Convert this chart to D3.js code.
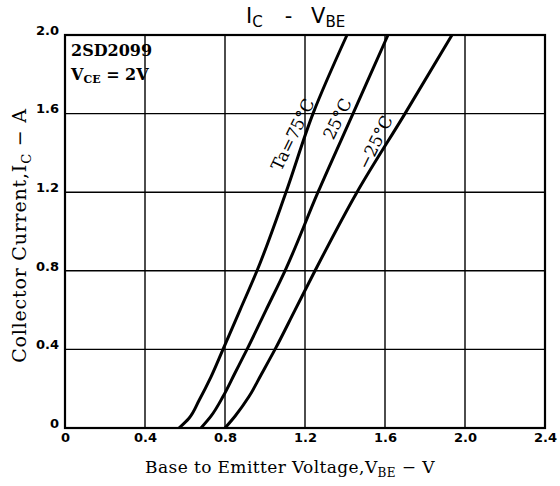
<!DOCTYPE html>
<html>
<head>
<meta charset="utf-8">
<script src="https://cdn.jsdelivr.net/npm/d3@7"></script>
<style>
  body { margin: 0; background: #fff; }
  .serif { font-family: "DejaVu Serif", serif; }
</style>
</head>
<body>
<svg id="chart" width="560" height="486"></svg>
<script>
// tick values
const xTicks = [0, 0.4, 0.8, 1.2, 1.6, 2.0, 2.4];
const xTickLabels = ['0', '0.4', '0.8', '1.2', '1.6', '2.0', '2.4'];
const yTicks = [0, 0.4, 0.8, 1.2, 1.6, 2.0];
const yTickLabels = ['0', '0.4', '0.8', '1.2', '1.6', '2.0'];

// curves: [VBE, IC]
const curve75 = [[0.57, 0], [0.62, 0.05], [0.67, 0.14], [0.73, 0.26], [0.79, 0.4], [0.875, 0.6], [0.96, 0.8], [1.105, 1.2], [1.24, 1.6], [1.41, 2.0]];
const curve25 = [[0.68, 0], [0.73, 0.06], [0.79, 0.16], [0.85, 0.28], [0.91, 0.4], [1.005, 0.6], [1.10, 0.8], [1.265, 1.2], [1.44, 1.6], [1.615, 2.0]];
const curveM25 = [[0.80, 0], [0.85, 0.06], [0.92, 0.16], [0.98, 0.27], [1.05, 0.4], [1.15, 0.6], [1.25, 0.8], [1.46, 1.2], [1.70, 1.6], [1.935, 2.0]];

const svg = d3.select('#chart');
const margin = { top: 35, right: 15, bottom: 58, left: 65 };
const width = 560, height = 486;

const x = d3.scaleLinear().domain([0, 2.4]).range([margin.left, width - margin.right]);
const y = d3.scaleLinear().domain([0, 2.0]).range([height - margin.bottom, margin.top]);

// grid
svg.append('g')
  .selectAll('line')
  .data(xTicks)
  .join('line')
  .attr('x1', d => x(d)).attr('x2', d => x(d))
  .attr('y1', y(0)).attr('y2', y(2.0))
  .attr('stroke', '#000').attr('stroke-width', 1.4);

svg.append('g')
  .selectAll('line')
  .data(yTicks)
  .join('line')
  .attr('x1', x(0)).attr('x2', x(2.4))
  .attr('y1', d => y(d)).attr('y2', d => y(d))
  .attr('stroke', '#000').attr('stroke-width', 1.4);

// frame
svg.append('rect')
  .attr('x', x(0)).attr('y', y(2.0))
  .attr('width', x(2.4) - x(0)).attr('height', y(0) - y(2.0))
  .attr('fill', 'none').attr('stroke', '#000').attr('stroke-width', 2.2);

// axes (labels only)
const xAxis = svg.append('g')
  .attr('transform', `translate(0,${y(0)})`)
  .call(d3.axisBottom(x).tickValues(xTicks).tickSize(0).tickPadding(5)
    .tickFormat((d, i) => xTickLabels[i]));
xAxis.select('.domain').remove();
xAxis.selectAll('text')
  .attr('font-family', 'DejaVu Sans').attr('font-weight', 'bold').attr('font-size', 13);

const yAxis = svg.append('g')
  .attr('transform', `translate(${x(0) - 6},0)`)
  .call(d3.axisLeft(y).tickValues(yTicks).tickSize(0).tickPadding(0)
    .tickFormat((d, i) => yTickLabels[i]));
yAxis.select('.domain').remove();
yAxis.selectAll('text')
  .attr('font-family', 'DejaVu Sans').attr('font-weight', 'bold').attr('font-size', 13)
  .attr('dy', '-0.05em');

// curves
const line = d3.line().x(d => x(d[0])).y(d => y(d[1])).curve(d3.curveMonotoneY);
[curve75, curve25, curveM25].forEach(c => {
  svg.append('path')
    .attr('d', line(c))
    .attr('fill', 'none')
    .attr('stroke', '#000')
    .attr('stroke-width', 3);
});

// curve labels
const curveLabels = [
  { text: 'Ta=75°C', v: 1.145, i: 1.49 },
  { text: '25°C', v: 1.368, i: 1.57 },
  { text: '−25°C', v: 1.558, i: 1.45 }
];
svg.append('g')
  .selectAll('text')
  .data(curveLabels)
  .join('text')
  .attr('class', 'serif')
  .attr('font-size', 17)
  .attr('text-anchor', 'middle')
  .attr('dominant-baseline', 'middle')
  .attr('transform', d => `translate(${x(d.v)},${y(d.i)}) rotate(-64)`)
  .text(d => d.text);

// device info
const info = svg.append('g').attr('class', 'serif').attr('font-size', 16).attr('font-weight', 'bold');
info.append('text').attr('x', 71).attr('y', 56).text('2SD2099');
const vce = info.append('text').attr('x', 71).attr('y', 80);
vce.append('tspan').text('V');
vce.append('tspan').attr('font-size', 11).attr('dy', 3).text('CE');
vce.append('tspan').attr('dy', -3).text(' = 2V');

// title
const title = svg.append('text')
  .attr('x', 246).attr('y', 23)
  .attr('font-family', 'DejaVu Sans').attr('font-size', 21);
title.append('tspan').text('I');
title.append('tspan').attr('font-size', 15).attr('dy', 4).text('C');
title.append('tspan').attr('dy', -4).attr('dx', 22).text('-');
title.append('tspan').attr('dx', 20).text('V');
title.append('tspan').attr('font-size', 15).attr('dy', 4).text('BE');

// x axis title
const xt = svg.append('text')
  .attr('class', 'serif')
  .attr('x', 290).attr('y', 473)
  .attr('text-anchor', 'middle')
  .attr('font-size', 17)
  .attr('letter-spacing', 0.4);
xt.append('tspan').text('Base to Emitter Voltage,V');
xt.append('tspan').attr('font-size', 12).attr('dy', 4).text('BE');
xt.append('tspan').attr('dy', -4).text(' − V');

// y axis title
const yt = svg.append('text')
  .attr('class', 'serif')
  .attr('transform', `translate(26,${(y(0) + y(2.0)) / 2 + 4}) rotate(-90)`)
  .attr('text-anchor', 'middle')
  .attr('font-size', 19)
  .attr('letter-spacing', 0.8);
yt.append('tspan').text('Collector Current,I');
yt.append('tspan').attr('font-size', 13).attr('dy', 5).text('C');
yt.append('tspan').attr('dy', -5).text(' − A');
</script>
</body>
</html>
